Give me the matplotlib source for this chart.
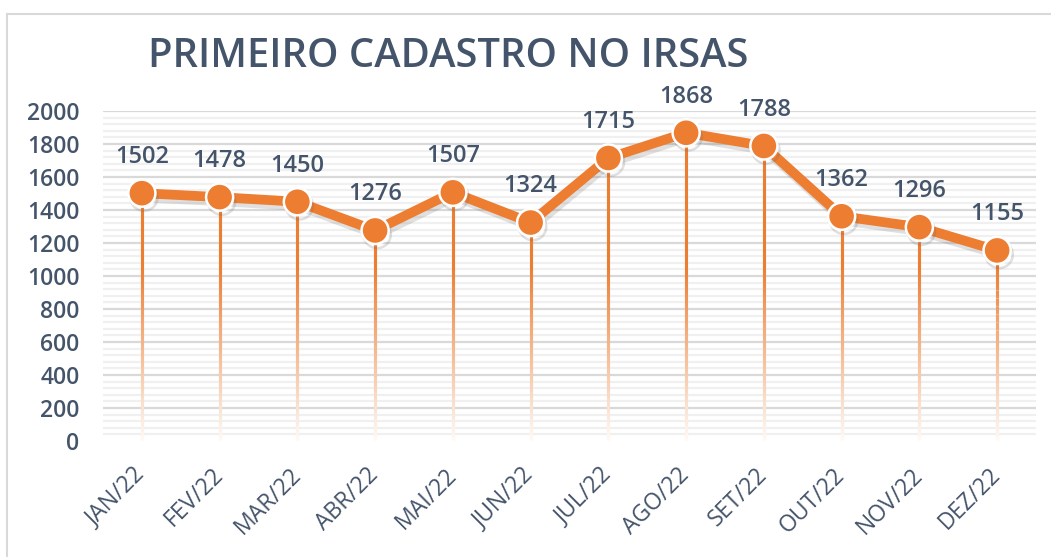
import matplotlib.pyplot as plt
import matplotlib.patheffects as pe
from matplotlib.collections import LineCollection
from matplotlib.lines import Line2D
import numpy as np

months = ['JAN/22', 'FEV/22', 'MAR/22', 'ABR/22', 'MAI/22', 'JUN/22',
          'JUL/22', 'AGO/22', 'SET/22', 'OUT/22', 'NOV/22', 'DEZ/22']
values = [1502, 1478, 1450, 1276, 1507, 1324, 1715, 1868, 1788, 1362, 1296, 1155]
yticks = [0, 200, 400, 600, 800, 1000, 1200, 1400, 1600, 1800, 2000]

orange = np.array([0.929, 0.490, 0.192])
textcol = '#44546A'
plt.rcParams['font.family'] = ['Open Sans', 'DejaVu Sans']

fig = plt.figure(figsize=(10.51, 5.57), dpi=100)
ax = fig.add_axes([103/1051, 1-441/557, 933/1051, 330/557])

# chart border (top and left edges visible)
fig.add_artist(Line2D([7/1051, 7/1051], [0, 1-14/557], color='#d9d9d9', lw=1.5))
fig.add_artist(Line2D([7/1051, 1], [1-14/557, 1-14/557], color='#d9d9d9', lw=1.5))

x = np.arange(len(months))
ax.set_xlim(-0.5, len(months)-0.5)
ax.set_ylim(0, 2000)

# gridlines: minor every 40, major every 200
for g in range(40, 2001, 40):
    if g % 200 == 0:
        ax.axhline(g, color='#d9d9d9', lw=1.6, zorder=0)
    else:
        ax.axhline(g, color='#f0f0f0', lw=1.6, zorder=0)

# drop lines fading to white towards the bottom
segs = []
cols = []
for xi, v in zip(x, values):
    ys = np.linspace(0, v, 120)
    step = ys[1] - ys[0]
    for a in ys[:-1]:
        segs.append([(xi, a), (xi, a + step * 1.6)])
        t = min(1.0, 0.04 + a / 1100)
        cols.append(tuple(1 - t * (1 - orange)))
ax.add_collection(LineCollection(segs, colors=cols, linewidths=2.2, zorder=2,
                                 capstyle='butt'))

ax.plot(x, values, color=tuple(orange), lw=7, marker='o', markersize=19.5,
        markerfacecolor=tuple(orange), markeredgecolor='white', markeredgewidth=1.8,
        zorder=3, solid_capstyle='round',
        path_effects=[pe.SimpleLineShadow(offset=(1.5, -3), shadow_color='#666666', alpha=0.2),
                      pe.Normal()])

for xi, v in zip(x, values):
    ax.annotate(str(v), (xi, v), xytext=(0, 26), textcoords='offset points',
                ha='center', va='center', fontsize=17, color=textcol,
                fontweight='semibold', annotation_clip=False)

ax.set_yticks(yticks)
ax.set_yticklabels([str(t) for t in yticks], fontsize=16.5, color=textcol,
                   fontweight='semibold')
ax.set_xticks(x)
ax.set_xticklabels(months, fontsize=16.5, color=textcol, rotation=45,
                   ha='right', va='center', rotation_mode='anchor')
ax.tick_params(axis='y', length=0, pad=17)
ax.tick_params(axis='x', length=0, pad=22)
for s in ax.spines.values():
    s.set_visible(False)

fig.text(148/1051, 1-57/557, 'PRIMEIRO CADASTRO NO IRSAS', fontsize=28.7,
         color=textcol, ha='left', va='center', fontweight='semibold')

fig.savefig('out.png', dpi=100)
